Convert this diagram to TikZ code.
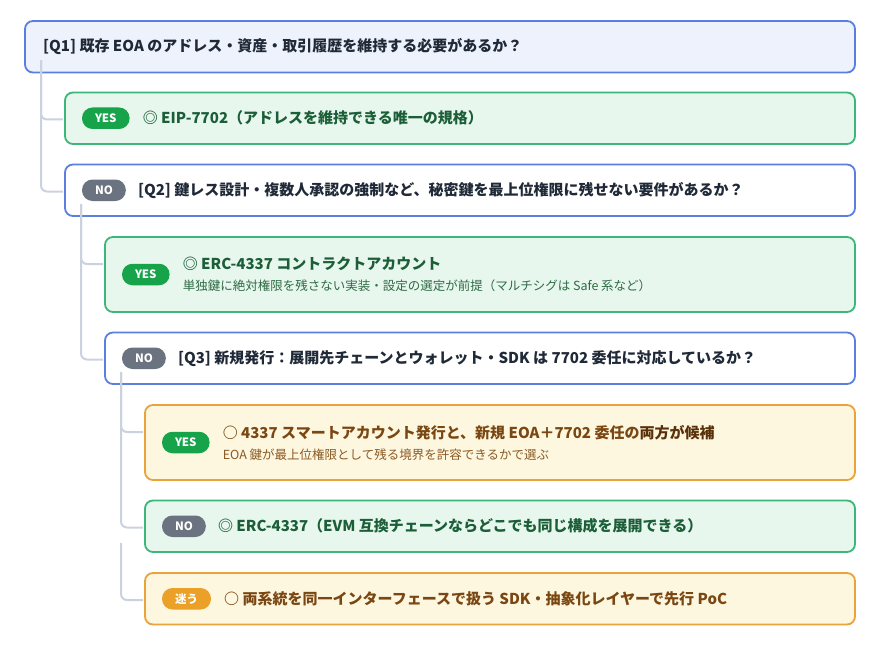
\documentclass[tikz,border=0pt]{standalone}
\usepackage{fontspec}
\setmainfont{Noto Sans CJK JP}
\usetikzlibrary{positioning}

\definecolor{qline}{HTML}{5B7FE0}
\definecolor{qfill}{HTML}{EEF2FD}
\definecolor{qtext}{HTML}{1F2937}
\definecolor{gline}{HTML}{3DB67A}
\definecolor{gfill}{HTML}{E8F7EE}
\definecolor{gtext}{HTML}{1B5E38}
\definecolor{gsub}{HTML}{2E6B45}
\definecolor{gtag}{HTML}{16A34A}
\definecolor{oline}{HTML}{EAA23A}
\definecolor{ofill}{HTML}{FEF7E0}
\definecolor{otext}{HTML}{7A4712}
\definecolor{osub}{HTML}{8A5A24}
\definecolor{ostrong}{HTML}{5A3008}
\definecolor{otag}{HTML}{EBA028}
\definecolor{ntag}{HTML}{6B7280}
\definecolor{wirec}{HTML}{CBD2DF}

\begin{document}
\begin{tikzpicture}[x=1pt,y=1pt,
  box/.style={draw,line width=1.8pt,rounded corners=8pt,minimum height=51.5pt,inner sep=0pt,outer sep=0pt},
  qbox/.style={box,draw=qline,fill=white},
  gbox/.style={box,draw=gline,fill=gfill},
  obox/.style={box,draw=oline,fill=ofill},
  tall/.style={minimum height=75pt},
  pill/.style={rounded corners=10.5pt,minimum height=21.5pt,inner xsep=13pt,inner ysep=0pt,outer sep=0pt,
    text=white,font=\fontsize{11.5}{12}\selectfont\bfseries},
  yes/.style={pill,fill=gtag},
  no/.style={pill,fill=ntag},
  hmm/.style={pill,fill=otag},
  qtxt/.style={inner sep=0pt,text=qtext,font=\fontsize{15}{17}\selectfont\bfseries},
  gtxt/.style={qtxt,text=gtext},
  otxt/.style={qtxt,text=otext},
  wire/.style={draw=wirec,line width=2pt,rounded corners=6pt,shorten >=2pt}]
  \useasboundingbox (0,0) rectangle (880,-650);

  % boxes
  \node[qbox,fill=qfill,minimum width=830pt,anchor=north west] (q1) at (25,-21) {};
  \node[gbox,minimum width=790pt] (y1) [below right=20pt and 40pt of q1.south west] {};
  \node[qbox,minimum width=790pt] (q2) [below right=20.5pt and 0pt of y1.south west] {};
  \node[gbox,tall,minimum width=750pt] (y2) [below right=21pt and 40pt of q2.south west] {};
  \node[qbox,minimum width=750pt] (q3) [below right=20.5pt and 0pt of y2.south west] {};
  \node[obox,tall,minimum width=710pt] (y3) [below right=21pt and 40pt of q3.south west] {};
  \node[gbox,minimum width=710pt] (n3) [below right=20.5pt and 0pt of y3.south west] {};
  \node[obox,minimum width=710pt] (m3) [below right=21pt and 0pt of n3.south west] {};

  % badges
  \node[yes] (t1) [right=17pt of y1.west] {YES};
  \node[no]  (t2) [right=17pt of q2.west] {NO};
  \node[yes] (t3) [right=17pt of y2.west] {YES};
  \node[no]  (t4) [right=17pt of q3.west] {NO};
  \node[yes] (t5) [right=17pt of y3.west] {YES};
  \node[no]  (t6) [right=17pt of n3.west] {NO};
  \node[hmm] (t7) [right=17pt of m3.west] {迷う};

  % texts
  \node[qtxt] (q1txt) [right=18pt of q1.west] {[Q1] 既存 EOA のアドレス・資産・取引履歴を維持する必要があるか？};
  \node[gtxt] (y1txt) [right=13pt of t1] {◎ EIP-7702（アドレスを維持できる唯一の規格）};
  \node[qtxt] (q2txt) [right=12pt of t2] {[Q2] 鍵レス設計・複数人承認の強制など、秘密鍵を最上位権限に残せない要件があるか？};
  \node[gtxt,align=left] (y2txt) [right=13pt of t3]
    {◎ ERC-4337 コントラクトアカウント\\[4pt]
     {\fontsize{12.5}{14}\selectfont\mdseries\color{gsub}単独鍵に絶対権限を残さない実装・設定の選定が前提（マルチシグは Safe 系など）}};
  \node[qtxt] (q3txt) [right=12pt of t4] {[Q3] 新規発行：展開先チェーンとウォレット・SDK は 7702 委任に対応しているか？};
  \node[otxt,align=left] (y3txt) [right=13pt of t5]
    {○ 4337 スマートアカウント発行と、新規 EOA＋7702 委任の{\color{ostrong}両方が候補}\\[4pt]
     {\fontsize{12.5}{14}\selectfont\mdseries\color{osub}EOA 鍵が最上位権限として残る境界を許容できるかで選ぶ}};
  \node[gtxt] (n3txt) [right=12pt of t6] {◎ ERC-4337（EVM 互換チェーンならどこでも同じ構成を展開できる）};
  \node[otxt] (m3txt) [right=13pt of t7] {○ 両系統を同一インターフェースで扱う SDK・抽象化レイヤーで先行 PoC};

  % tree lines
  \coordinate (s1) at ([xshift=16pt,yshift=12pt]q1.south west);
  \coordinate (s2) at ([xshift=16pt,yshift=12pt]q2.south west);
  \coordinate (s3) at ([xshift=16pt,yshift=12pt]q3.south west);
  \coordinate (s4) at ([xshift=-24pt,yshift=9pt]n3.south west);
  \draw[wire] (s1) |- ([yshift=-27pt]y1.north west);
  \draw[wire] (s1) |- ([yshift=-27pt]q2.north west);
  \draw[wire] (s2) |- ([yshift=-27pt]y2.north west);
  \draw[wire] (s2) |- ([yshift=-27pt]q3.north west);
  \draw[wire] (s3) |- ([yshift=-27pt]y3.north west);
  \draw[wire] (s3) |- ([yshift=-27pt]n3.north west);
  \draw[wire] (s4) |- ([yshift=-27pt]m3.north west);
\end{tikzpicture}
\end{document}
